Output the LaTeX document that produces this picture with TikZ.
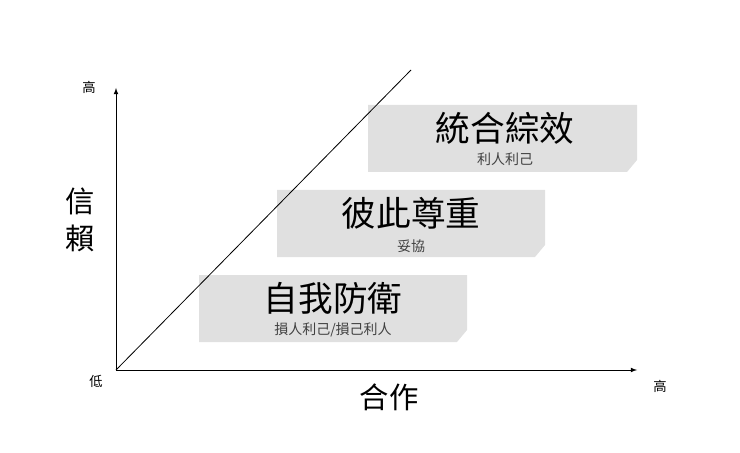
\documentclass[tikz,border=0pt]{standalone}
\usepackage{fontspec}
\newfontfamily\cjk{Noto Sans CJK TC}
\begin{document}
\begin{tikzpicture}[x=0.75pt,y=-0.75pt,
  box/.style={fill=black!12,draw=none},
  ttl/.style={font=\cjk\fontsize{26}{28}\selectfont,inner sep=0},
  sub/.style={font=\cjk\fontsize{10.5}{12}\selectfont,text=black!75,inner sep=0},
  ax/.style={font=\cjk\fontsize{10}{12}\selectfont,inner sep=0},
  big/.style={font=\cjk\fontsize{22}{26}\selectfont,inner sep=0}]
\useasboundingbox (0,0) rectangle (740,453);
\fill[box] (368,105) -- (637,105) -- (637,160) -- (627,172) -- (368,172) -- cycle;
\fill[box] (277,190) -- (545,190) -- (545,245) -- (535,257) -- (277,257) -- cycle;
\fill[box] (199,275) -- (467,275) -- (467,330) -- (457,342) -- (199,342) -- cycle;
\coordinate (o) at (116,370);
\coordinate (ytop) at (116,88);
\coordinate (xend) at (637,370);
\coordinate (dg) at (411,70);
\draw[-latex,line width=0.6pt] (o) -- (ytop);
\draw[-latex,line width=0.6pt] (o) -- (xend);
\draw[line width=0.6pt] (o) -- (dg);
\node[ttl] (t1) at (505,128) {統合綜效};
\node[sub] (s1) at (505,159) {利人利己};
\node[ttl] (t2) at (411,213) {彼此尊重};
\node[sub] (s2) at (411,246) {妥協};
\node[ttl] (t3) at (333,298) {自我防衛};
\node[sub] (s3) at (333,330) {損人利己/損己利人};
\node[ax] (hy) at (89,87) {高};
\node[ax] (lo) at (96,381) {低};
\node[ax] (hx) at (660,386) {高};
\node[big,align=center] (xy) at (80,220) {信\\[2pt]賴};
\node[big] (hz) at (389,397) {合作};
\end{tikzpicture}
\end{document}
